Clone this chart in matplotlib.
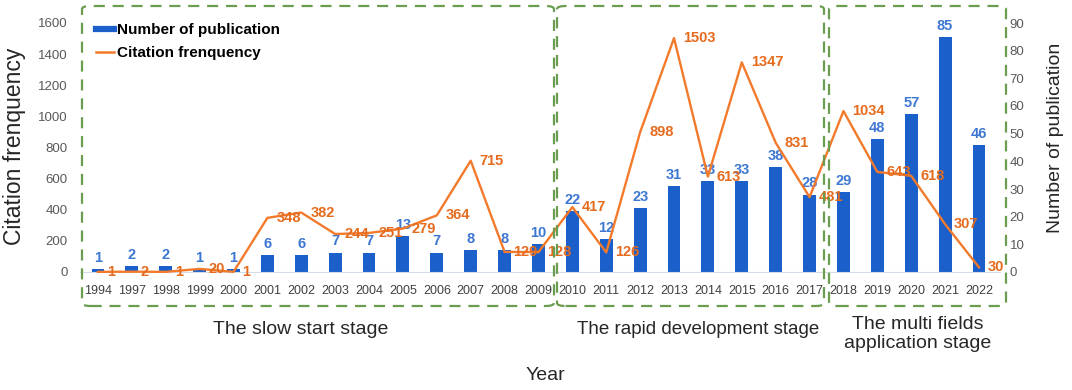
import matplotlib
matplotlib.use("Agg")
import matplotlib.pyplot as plt
from matplotlib.patches import FancyBboxPatch
from matplotlib.lines import Line2D

plt.rcParams['font.family'] = ['Liberation Sans', 'DejaVu Sans']

years = ['1994', '1997', '1998', '1999', '2000', '2001', '2002', '2003', '2004',
         '2005', '2006', '2007', '2008', '2009', '2010', '2011', '2012', '2013',
         '2014', '2015', '2016', '2017', '2018', '2019', '2020', '2021', '2022']
publications = [1, 2, 2, 1, 1, 6, 6, 7, 7, 13, 7, 8, 8, 10, 22, 12, 23, 31,
                33, 33, 38, 28, 29, 48, 57, 85, 46]
citations = [1, 2, 1, 20, 1, 348, 382, 244, 251, 279, 364, 715, 129, 128, 417,
             126, 898, 1503, 613, 1347, 831, 481, 1034, 643, 618, 307, 30]
left_ticks = [0, 200, 400, 600, 800, 1000, 1200, 1400, 1600]
right_ticks = [0, 10, 20, 30, 40, 50, 60, 70, 80, 90]
stages = ['The slow start stage', 'The rapid development stage',
          'The multi fields\napplication stage']

W, H = 1072, 390
fig = plt.figure(figsize=(W / 100, H / 100), dpi=100)

def fx(px):
    return px / W

def fy(py):
    return 1 - py / H

BAR = '#1B60CA'
BAR_LBL = '#3D77D2'
LINE = '#F37A2B'
LINE_LBL = '#E56B1E'
GREEN = '#6A9D50'

ax = fig.add_axes([fx(80), fy(272), fx(1000) - fx(80), fy(23) - fy(272)])
axb = ax.twinx()
ax.set_zorder(axb.get_zorder() + 1)
ax.patch.set_visible(False)

x = list(range(len(years)))
axb.bar(x, publications, width=0.38, color=BAR, zorder=2)
ax.plot(x, citations, color=LINE, lw=1.7, clip_on=False, zorder=3)

for xi, v in zip(x, publications):
    axb.annotate(str(v), (xi, v), xytext=(0, 3), textcoords='offset points',
                 ha='center', va='bottom', color=BAR_LBL, fontsize=10.5,
                 fontweight='bold')
for xi, v in zip(x, citations):
    ax.annotate(str(v), (xi, v), xytext=(6.5, 0), textcoords='offset points',
                ha='left', va='center', color=LINE_LBL, fontsize=10.5,
                fontweight='bold', zorder=5)

ax.set_xlim(-0.53, 26.62)
ax.set_ylim(0, 1600)
axb.set_ylim(0, 90)
ax.set_yticks(left_ticks)
axb.set_yticks(right_ticks)
ax.set_xticks(x)
ax.set_xticklabels(years)
ax.tick_params(axis='x', length=0, pad=9, labelsize=9, labelcolor='#404040')
ax.tick_params(axis='y', length=0, pad=9, labelsize=9.5, labelcolor='#595959')
axb.tick_params(axis='y', length=0, pad=7, labelsize=9.5, labelcolor='#595959')
for a in (ax, axb):
    for s in a.spines.values():
        s.set_visible(False)
ax.spines['bottom'].set_visible(True)
ax.spines['bottom'].set_color('#D5DCE8')
ax.spines['bottom'].set_linewidth(0.8)

handles = [Line2D([0], [0], color=BAR, lw=4.5),
           Line2D([0], [0], color=LINE, lw=1.8)]
fig.legend(handles, ['Number of publication', 'Citation frenquency'],
           loc='upper left', bbox_to_anchor=(fx(96), fy(23)), frameon=False,
           borderpad=0, borderaxespad=0, handlelength=1.2, handletextpad=0.15,
           labelspacing=0.6, prop={'weight': 'bold', 'size': 11})

boxes = [(82, 554), (557, 824), (829, 1006)]
for x0, x1 in boxes:
    p = FancyBboxPatch((fx(x0), fy(306)), fx(x1) - fx(x0), fy(6) - fy(306),
                       boxstyle='round,pad=0,rounding_size=0.008',
                       transform=fig.transFigure, fill=False, edgecolor=GREEN,
                       lw=1.6, linestyle=(0, (5, 3.5)), zorder=10)
    fig.add_artist(p)

fig.text(fx(301), fy(330), stages[0], ha='center', va='center', fontsize=14,
         color='#262626')
fig.text(fx(698), fy(330), stages[1], ha='center', va='center', fontsize=13.5,
         color='#262626')
fig.text(fx(918), fy(334), stages[2], ha='center', va='center', fontsize=14,
         color='#262626', linespacing=1.2)
fig.text(fx(545), fy(376), 'Year', ha='center', va='center', fontsize=14,
         color='#262626')
fig.text(fx(15), fy(146), 'Citation frenquency', ha='center', va='center',
         rotation=90, fontsize=16.5, color='#262626')
fig.text(fx(1055), fy(138), 'Number of publication', ha='center', va='center',
         rotation=90, fontsize=14, color='#262626')

fig.savefig('out.png', dpi=100)
